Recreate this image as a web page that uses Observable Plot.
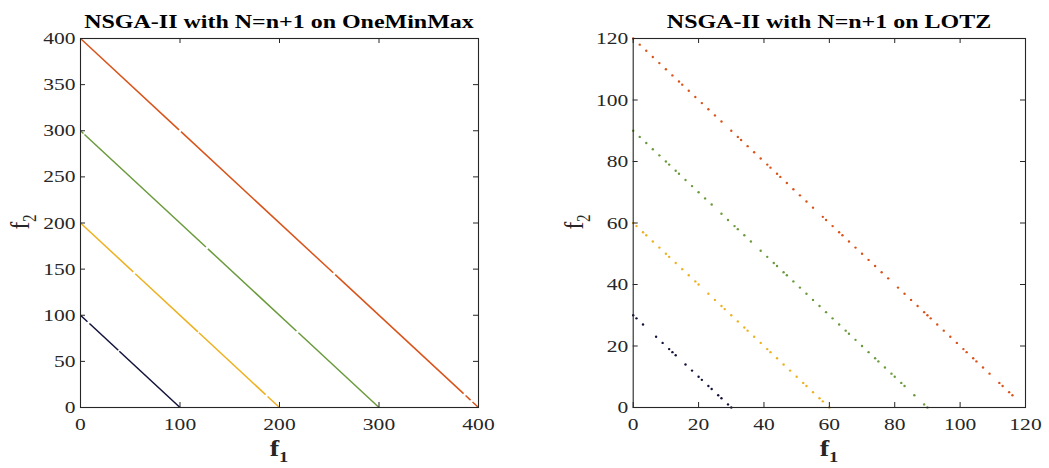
<!DOCTYPE html>
<html><head><meta charset="utf-8">
<script src="https://cdn.jsdelivr.net/npm/d3@7"></script>
<script src="https://cdn.jsdelivr.net/npm/@observablehq/plot@0.6"></script>
<style>
body{margin:0;background:#fff;}
#wrap{position:relative;width:1049px;height:468px;overflow:hidden;}
#wrap svg{position:absolute;top:0;}
#wrap svg text{font-family:'Liberation Serif','Times New Roman',serif !important;}
</style></head><body><div id="wrap"></div>
<script>
// ---------- data ----------
const seriesNames = ["n=30/100", "n=60/200", "n=90/300", "n=120/400"];
const seriesColors = ["#12123a", "#EDB120", "#6a9a3c", "#D95319"];

// OneMinMax: covered stretches of the front, [f1 start, f2 start, f1 end, f2 end]
const omm100Seg = [[0,100,7,93],[9,91,38,62],[39,61,100,0]];
const omm200Seg = [[0,200,53,147],[55,145,118,82],[119,81,186,14],[188,12,200,0]];
const omm300Seg = [[0,300,3,297],[4,296,126,174],[128,172,217,83],[219,81,300,0]];
const omm400Seg = [[0,400,99,301],[101,299,254,146],[256,144,385,15],[387,13,392,8],[394,6,400,0]];

// LOTZ: individual points
const lotz30F1 = [0,1,3,7,9,11,12,13,16,18,20,21,23,24,26,27,29,30];
const lotz30F2 = [30,29,27,23,21,19,18,17,14,12,10,9,7,6,4,3,1,0];
const lotz60F1 = [0,1,3,4,6,8,10,11,13,15,17,19,20,23,25,27,28,30,32,34,35,37,39,41,42,44,46,48,50,52,53,55,57,58,60];
const lotz60F2 = [60,59,57,56,54,52,50,49,47,45,43,41,40,37,35,33,32,30,28,26,25,23,21,19,18,16,14,12,10,8,7,5,3,2,0];
const lotz90F1 = [0,2,4,6,8,10,11,13,14,16,18,20,22,24,27,29,31,32,34,36,39,41,43,44,46,47,49,51,53,55,57,59,61,63,65,66,68,70,72,74,75,77,79,80,82,83,86,89,90];
const lotz90F2 = [90,88,86,84,82,80,79,77,76,74,72,70,68,66,63,61,59,58,56,54,51,49,47,46,44,43,41,39,37,35,33,31,29,27,25,24,22,20,18,16,15,13,11,10,8,7,4,1,0];
const lotz120F1 = [0,2,4,6,8,10,12,14,15,17,19,21,23,25,27,30,32,33,35,37,39,41,42,44,45,47,49,51,53,55,58,59,61,63,64,66,68,70,72,74,76,78,81,83,85,87,89,90,91,93,95,97,99,101,102,104,105,107,109,112,113,115,116];
const lotz120F2 = [120,118,116,114,112,110,108,106,105,103,101,99,97,95,93,90,88,87,85,83,81,79,78,76,75,73,71,69,67,65,62,61,59,57,56,54,52,50,48,46,44,42,39,37,35,33,31,30,29,27,25,23,21,19,18,16,15,13,11,8,7,5,4];

const leftXTicks = [0,100,200,300,400];
const leftYTicks = [0,50,100,150,200,250,300,350,400];
const rightXTicks = [0,20,40,60,80,100,120];
const rightYTicks = [0,20,40,60,80,100,120];

const leftTitle = "NSGA-II with N=n+1 on OneMinMax";
const rightTitle = "NSGA-II with N=n+1 on LOTZ";

// ---------- build tables ----------
const ommSegs = [omm100Seg, omm200Seg, omm300Seg, omm400Seg];
const segRows = [];
ommSegs.forEach((segs, i) => segs.forEach(s => segRows.push({s: seriesNames[i], x1: s[0], y1: s[1], x2: s[2], y2: s[3]})));
const lotzF1 = [lotz30F1, lotz60F1, lotz90F1, lotz120F1];
const lotzF2 = [lotz30F2, lotz60F2, lotz90F2, lotz120F2];
const ptRows = [];
lotzF1.forEach((xs, i) => xs.forEach((x, j) => ptRows.push({s: seriesNames[i], x, y: lotzF2[i][j]})));

const FONT = "'Liberation Serif', 'Times New Roman', serif";
const AX = "#262626";
const STRETCH = 1.23;

function panel({W, H, mL, mR, mT, mB, xDom, yDom, xT, yT, data}) {
  const fw = W - mL - mR, fh = H - mT - mB;
  return Plot.plot({
    width: W, height: H, marginLeft: mL, marginRight: mR, marginTop: mT, marginBottom: mB,
    style: {fontFamily: FONT, fontSize: "17px", color: AX, background: "transparent", overflow: "visible"},
    x: {domain: xDom}, y: {domain: yDom},
    color: {domain: seriesNames, range: seriesColors},
    marks: [
      data,
      Plot.tickX(xT, {x: d => d, insetTop: fh - 5, stroke: AX}),
      Plot.tickX(xT, {x: d => d, insetBottom: fh - 5, stroke: AX}),
      Plot.tickY(yT, {y: d => d, insetRight: fw - 5, stroke: AX}),
      Plot.tickY(yT, {y: d => d, insetLeft: fw - 5, stroke: AX}),
      Plot.frame({stroke: AX, strokeWidth: 1.1}),
      Plot.axisX(xT, {anchor: "bottom", tickSize: 0, tickPadding: 10, label: null, fill: AX, fontSize: 17.5}),
      Plot.axisY(yT, {anchor: "left", tickSize: 0, tickPadding: 5, label: null, fill: AX, fontSize: 17.5})
    ]
  });
}

const W1 = 520, W2 = 529, H = 468;
const left = panel({W: W1, H, mL: 80, mR: 42, mT: 38, mB: 61, xDom: [0,400], yDom: [0,400], xT: leftXTicks, yT: leftYTicks,
  data: Plot.link(segRows, {x1: "x1", y1: "y1", x2: "x2", y2: "y2", stroke: "s", strokeWidth: 1.5})});
const right = panel({W: W2, H, mL: 112.7, mR: 24, mT: 38, mB: 61, xDom: [0,120], yDom: [0,120], xT: rightXTicks, yT: rightYTicks,
  data: Plot.dot(ptRows, {x: "x", y: "y", fill: "s", r: 1.2, stroke: "none"})});

const wrap = document.getElementById("wrap");
left.style.left = "0px";
right.style.left = "520px";
wrap.appendChild(left);
wrap.appendChild(right);

// widen the tick labels horizontally like the reference raster
function stretchText(svgEl) {
  d3.select(svgEl).selectAll("text").each(function() {
    const el = d3.select(this);
    el.attr("font-family", FONT);
    const ax = +el.attr("x") || 0;
    const tr = el.attr("transform") || "";
    el.attr("transform", `${tr} translate(${ax},0) scale(${STRETCH},1) translate(${-ax},0)`);
  });
}
stretchText(left);
stretchText(right);

function decorate(svgEl, cx, title, f2x) {
  const svg = d3.select(svgEl);
  svg.append("text").attr("transform", `translate(${cx},28) scale(${STRETCH},1)`).attr("text-anchor", "middle")
    .attr("font-family", FONT).attr("font-weight", "bold").attr("font-size", 19.5).attr("fill", "#000").text(title);
  const t1 = svg.append("text").attr("transform", `translate(${cx},456) scale(${STRETCH},1)`).attr("text-anchor", "middle")
    .attr("font-family", FONT).attr("font-weight", "bold").attr("font-size", 23).attr("fill", AX);
  t1.append("tspan").text("f");
  t1.append("tspan").attr("font-size", 15).attr("dy", 6).text("1");
  const t2 = svg.append("text").attr("transform", `translate(${f2x},222) rotate(-90) scale(1,${STRETCH})`).attr("text-anchor", "middle")
    .attr("font-family", FONT).attr("font-size", 23).attr("fill", AX);
  t2.append("tspan").text("f");
  t2.append("tspan").attr("font-size", 15).attr("dy", 6).text("2");
}
decorate(left, 279, leftTitle, 29);
decorate(right, 309, rightTitle, 63);
</script></body></html>
